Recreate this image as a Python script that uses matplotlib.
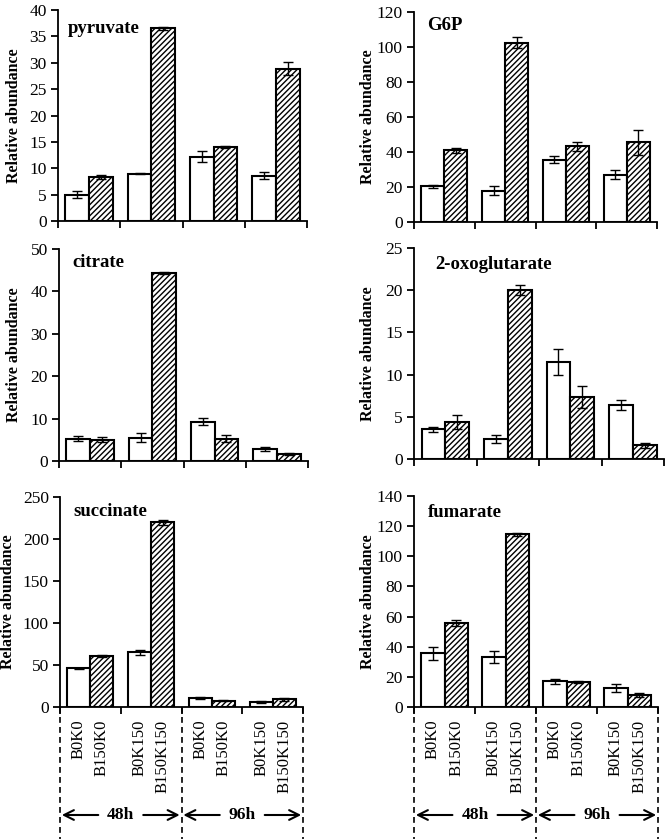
import numpy as np
import matplotlib
matplotlib.use("Agg")
import matplotlib.pyplot as plt
from matplotlib.transforms import blended_transform_factory

plt.rcParams['font.family'] = ['Liberation Serif', 'DejaVu Serif']
plt.rcParams['hatch.color'] = 'black'
plt.rcParams['hatch.linewidth'] = 1.0

# ---- data ----
conditions = ["B0K0", "B150K0", "B0K150", "B150K150"]   # label order per bar
groups = ["48h", "96h"]
metabolites = ["pyruvate", "G6P", "citrate", "2-oxoglutarate", "succinate", "fumarate"]

# white bars (B0*) and hatched bars (B150*) for the 4 groups:
# 48h-K0, 48h-K150, 96h-K0, 96h-K150
pyruvate_white = [5.0, 9.0, 12.2, 8.6]
pyruvate_white_err = [0.6, 0.1, 1.1, 0.6]
pyruvate_hatch = [8.4, 36.5, 14.0, 28.9]
pyruvate_hatch_err = [0.4, 0.2, 0.2, 1.2]

g6p_white = [20.3, 18.0, 35.5, 27.0]
g6p_white_err = [1.0, 2.5, 2.0, 2.5]
g6p_hatch = [41.0, 102.5, 43.2, 45.5]
g6p_hatch_err = [1.3, 3.0, 2.5, 7.0]

citrate_white = [5.3, 5.5, 9.3, 2.8]
citrate_white_err = [0.6, 1.0, 0.9, 0.5]
citrate_hatch = [5.0, 44.3, 5.3, 1.6]
citrate_hatch_err = [0.6, 0.2, 0.9, 0.2]

oxo_white = [3.5, 2.4, 11.5, 6.4]
oxo_white_err = [0.3, 0.5, 1.5, 0.6]
oxo_hatch = [4.4, 20.0, 7.4, 1.6]
oxo_hatch_err = [0.8, 0.6, 1.3, 0.3]

succ_white = [46.0, 65.0, 11.0, 6.0]
succ_white_err = [1.0, 3.0, 1.5, 1.0]
succ_hatch = [61.0, 220.0, 7.5, 9.0]
succ_hatch_err = [1.0, 3.0, 0.5, 1.5]

fum_white = [35.5, 33.0, 17.0, 12.5]
fum_white_err = [4.0, 4.0, 1.5, 2.5]
fum_hatch = [55.5, 114.5, 16.5, 8.0]
fum_hatch_err = [2.0, 1.0, 0.8, 1.5]

ymax = [40, 120, 50, 25, 250, 140]
ystep = [5, 20, 10, 5, 50, 20]

panel_data = [
    (pyruvate_white, pyruvate_white_err, pyruvate_hatch, pyruvate_hatch_err),
    (g6p_white, g6p_white_err, g6p_hatch, g6p_hatch_err),
    (citrate_white, citrate_white_err, citrate_hatch, citrate_hatch_err),
    (oxo_white, oxo_white_err, oxo_hatch, oxo_hatch_err),
    (succ_white, succ_white_err, succ_hatch, succ_hatch_err),
    (fum_white, fum_white_err, fum_hatch, fum_hatch_err),
]

# ---- layout (figure fractions) ----
W, H = 670, 839
def rect(l, r, t, b):
    return [l / W, 1 - b / H, (r - l) / W, (b - t) / H]

rects = [
    rect(58, 307, 10, 221),
    rect(414, 657, 12, 222),
    rect(59, 308, 249, 461),
    rect(414, 664, 248, 459),
    rect(60, 303, 497, 707),
    rect(414, 658, 496, 707),
]
title_pos = [(0.04, 0.91), (0.053, 0.938), (0.052, 0.934), (0.084, 0.924), (0.053, 0.929), (0.058, 0.924)]
label_x_px = [22, 376, 22, 376, 16, 376]

fig = plt.figure(figsize=(W / 100, H / 100), dpi=100)

x = np.arange(1, 5)
bw = 0.38
for i, (r, name) in enumerate(zip(rects, metabolites)):
    ax = fig.add_axes(r)
    wv, we, hv, he = panel_data[i]
    ax.bar(x - bw / 2, wv, bw, color='white', edgecolor='black', linewidth=1.5, zorder=2)
    ax.bar(x + bw / 2, hv, bw, color='white', edgecolor='black', linewidth=1.5,
           hatch='//////', zorder=2)
    ax.errorbar(x - bw / 2, wv, yerr=we, fmt='none', ecolor='black', elinewidth=1.0,
                capsize=3.5, capthick=1.0, zorder=3)
    ax.errorbar(x + bw / 2, hv, yerr=he, fmt='none', ecolor='black', elinewidth=1.0,
                capsize=3.5, capthick=1.0, zorder=3)
    ax.set_xlim(0.5, 4.5)
    ax.set_ylim(0, ymax[i])
    ax.set_yticks(np.arange(0, ymax[i] + 0.01, ystep[i]))
    ax.set_xticks([0.5, 1.5, 2.5, 3.5, 4.5])
    ax.set_xticklabels([])
    for s in ['top', 'right']:
        ax.spines[s].set_visible(False)
    for s in ['left', 'bottom']:
        ax.spines[s].set_linewidth(1.3)
    ax.tick_params(axis='both', direction='out', length=5, width=1.3, labelsize=12.5, pad=3)
    ax.text(title_pos[i][0], title_pos[i][1], name, transform=ax.transAxes,
            fontsize=13.5, fontweight='bold', ha='left', va='center')
    ax.set_ylabel("Relative abundance", fontsize=11.5, fontweight='bold')
    left_px = r[0] * W
    width_px = r[2] * W
    ax.yaxis.set_label_coords((label_x_px[i] - left_px) / width_px, 0.5)

    if i >= 4:
        pos = []
        for g in range(4):
            pos += [x[g] - bw / 2, x[g] + bw / 2]
        labs = [conditions[0], conditions[1], conditions[2], conditions[3]] * 2
        ax.set_xticks(pos, labs, minor=True)
        ax.tick_params(axis='x', which='minor', length=0, labelsize=12, pad=9,
                       labelrotation=90)
        tr = blended_transform_factory(ax.transData, fig.transFigure)
        y_axis_fig = r[1]
        for xv in [0.5, 2.5, 4.5]:
            ax.plot([xv, xv], [y_axis_fig, 0.0], transform=tr, color='black',
                    linestyle=(0, (3.5, 2.5)), linewidth=1.2, clip_on=False)
        ya = 1 - 815 / H
        for gi, (cx, lab) in enumerate([(1.5, groups[0]), (3.5, groups[1])]):
            ax.text(cx, ya, lab, transform=tr, fontsize=12.5, fontweight='bold',
                    ha='center', va='center')
            for side in (-1, 1):
                ax.annotate('', xy=(cx + side * 0.97, ya), xytext=(cx + side * 0.37, ya),
                            xycoords=tr, textcoords=tr,
                            arrowprops=dict(arrowstyle='->,head_length=0.7,head_width=0.35',
                                            color='black', lw=1.5, shrinkA=0, shrinkB=0),
                            annotation_clip=False)

fig.savefig("out.png", dpi=100)
